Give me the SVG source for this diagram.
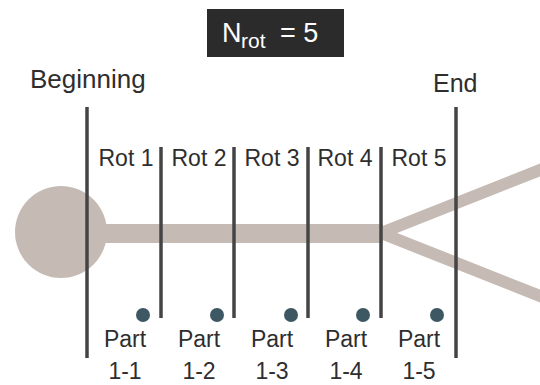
<svg xmlns="http://www.w3.org/2000/svg" width="540" height="385" viewBox="0 0 540 385">
<style>
text{font-family:"Liberation Sans",Arial,sans-serif;fill:#2e2e2e}
.lbl{font-size:23px;text-anchor:middle}
.big{font-size:25px}
.div{stroke:#444;stroke-width:3.5;fill:none}
.dot{fill:#3d5863}
.body{fill:#c6bab4}
</style>
<rect width="540" height="385" fill="#fff"/>
<g id="title">
<rect x="207" y="9" width="137" height="48" fill="#2b2b2b"/>
<text x="222" y="42" style="fill:#fff;font-size:27px">N<tspan font-size="21" x="241" y="48">rot</tspan><tspan x="280" y="42">= 5</tspan></text>
</g>
<g id="shape">
<circle cx="61" cy="232" r="46" class="body"/>
<rect x="100" y="224" width="283" height="19" class="body"/>
<path d="M381 233 L545 168 M381 233 L545 298" stroke="#c6bab4" stroke-width="12" fill="none"/>
</g>
<g id="connectors">
<line x1="87" y1="107" x2="87" y2="358" class="div"/>
<line x1="456" y1="107" x2="456" y2="358" class="div"/>
<line x1="161" y1="147" x2="161" y2="318" class="div"/>
<line x1="234" y1="147" x2="234" y2="318" class="div"/>
<line x1="308" y1="147" x2="308" y2="318" class="div"/>
<line x1="381" y1="147" x2="381" y2="318" class="div"/>
</g>
<g id="beginning"><text x="30" y="88" style="font-size:26px">Beginning</text></g>
<g id="end"><text x="433" y="92" class="big">End</text></g>
<g id="rot1"><text x="126" y="166" class="lbl">Rot 1</text></g>
<g id="rot2"><text x="199" y="166" class="lbl">Rot 2</text></g>
<g id="rot3"><text x="272" y="166" class="lbl">Rot 3</text></g>
<g id="rot4"><text x="345" y="166" class="lbl">Rot 4</text></g>
<g id="rot5"><text x="419" y="166" class="lbl">Rot 5</text></g>
<g id="part1"><circle cx="143" cy="315" r="7" class="dot"/><text x="125" y="347" class="lbl">Part</text><text x="125" y="379" class="lbl">1-1</text></g>
<g id="part2"><circle cx="217" cy="315" r="7" class="dot"/><text x="199" y="347" class="lbl">Part</text><text x="199" y="379" class="lbl">1-2</text></g>
<g id="part3"><circle cx="291" cy="315" r="7" class="dot"/><text x="272" y="347" class="lbl">Part</text><text x="272" y="379" class="lbl">1-3</text></g>
<g id="part4"><circle cx="363" cy="315" r="7" class="dot"/><text x="346" y="347" class="lbl">Part</text><text x="346" y="379" class="lbl">1-4</text></g>
<g id="part5"><circle cx="437" cy="315" r="7" class="dot"/><text x="419" y="347" class="lbl">Part</text><text x="419" y="379" class="lbl">1-5</text></g>
</svg>
